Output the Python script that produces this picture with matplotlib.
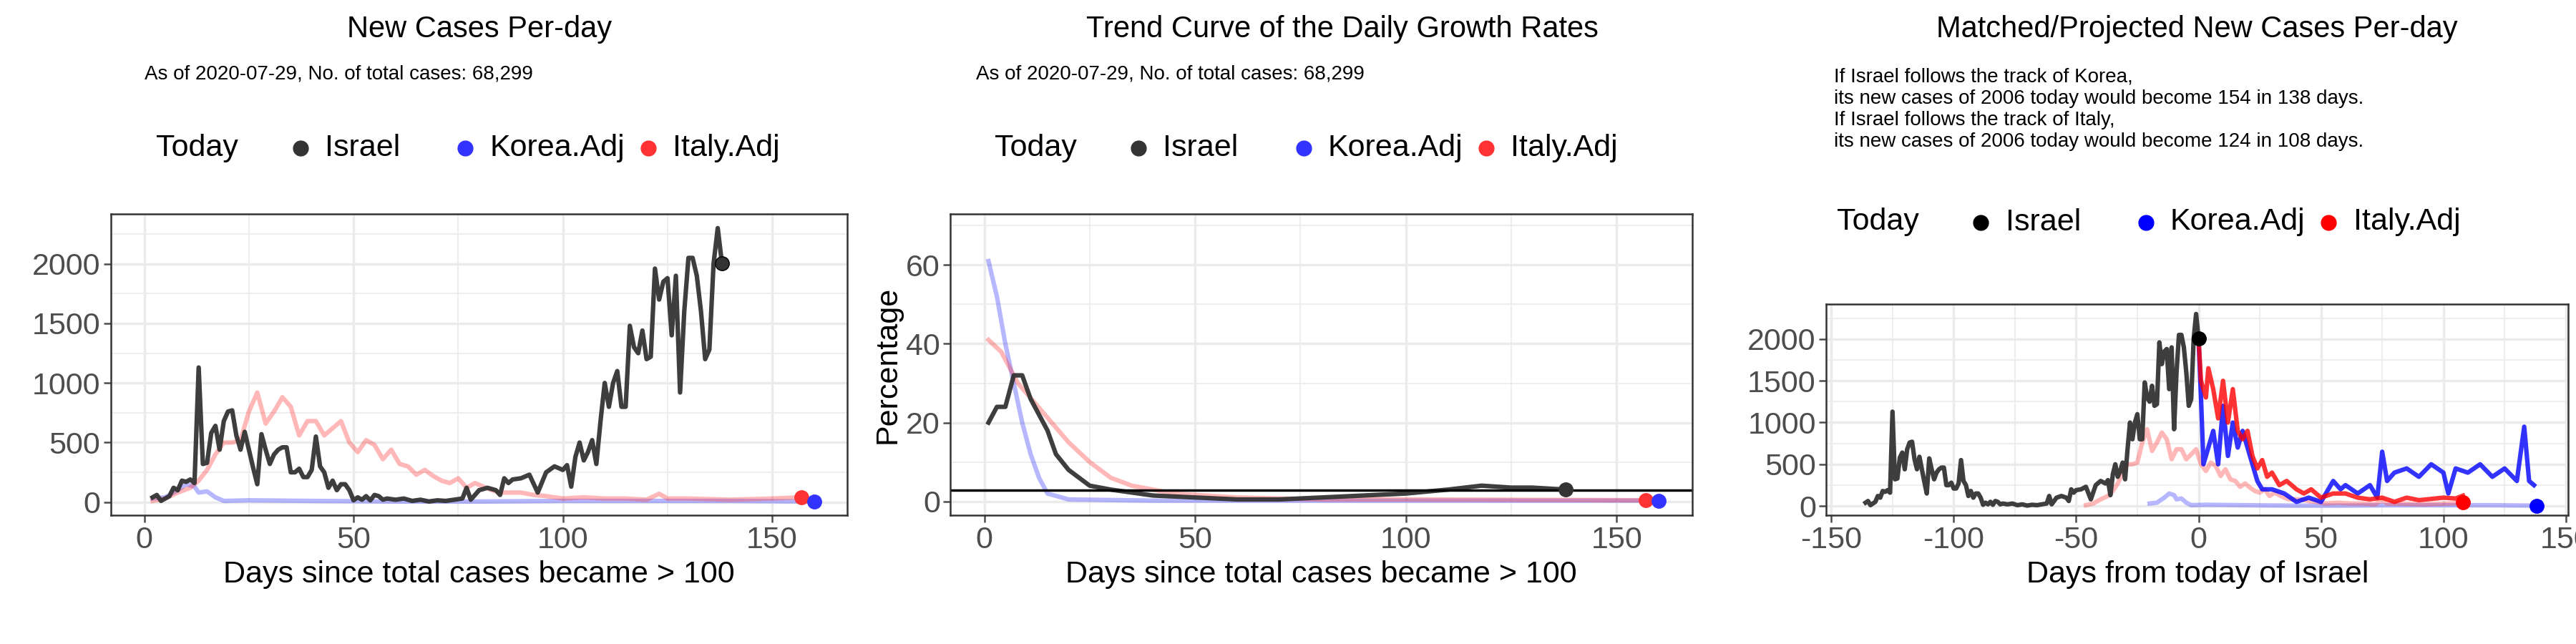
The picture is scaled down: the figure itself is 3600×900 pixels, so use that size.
import matplotlib
matplotlib.use("Agg")
import matplotlib.pyplot as plt
from matplotlib.lines import Line2D
import numpy as np

plt.rcParams["font.family"] = ["Liberation Sans", "DejaVu Sans"]

# ---- data ----
isr_day = [2, 3, 4, 5, 6, 7, 8, 9, 10, 11, 12, 13, 14, 15, 16, 17, 18, 19, 20, 21, 22, 23, 24, 25,
           26, 27, 28, 29, 30, 31, 32, 33, 34, 35, 36, 37, 38, 39, 40, 41, 42, 43, 44, 45, 46, 47,
           48, 49, 50, 51, 52, 53, 54, 55, 56, 57, 58, 60, 62, 64, 66, 68, 70, 72, 74, 76, 77, 78,
           80, 82, 84, 85, 86, 87, 88, 90, 92, 94, 96, 98, 100, 101, 102, 103, 104, 105, 106, 107,
           108, 109, 110, 111, 112, 113, 114, 115, 116, 117, 118, 119, 120, 121, 122, 123, 124,
           125, 126, 127, 128, 129, 130, 131, 132, 133, 134, 135, 136, 137, 138]
isr_new = [40, 60, 10, 30, 50, 120, 100, 180, 170, 190, 160, 1130, 320, 330, 580, 640, 440, 680,
           760, 770, 560, 440, 590, 440, 290, 150, 570, 440, 320, 400, 440, 460, 460, 250, 250, 280,
           210, 210, 270, 550, 300, 250, 120, 180, 100, 150, 150, 100, 15, 40, 20, 50, 15, 60, 50,
           20, 30, 20, 30, 10, 20, 5, 15, 10, 20, 30, 120, 20, 100, 120, 100, 60, 200, 160, 190,
           200, 230, 80, 250, 300, 270, 310, 130, 380, 500, 350, 420, 520, 320, 680, 1000, 800,
           1000, 1100, 800, 800, 1480, 1300, 1250, 1440, 1200, 1220, 1960, 1700, 1850, 1880, 1400,
           1900, 920, 1600, 2050, 2050, 1900, 1600, 1200, 1280, 2000, 2300, 2006]

kor_day = [2, 5, 8, 10, 12, 13, 15, 17, 19, 25, 40, 60, 80, 100, 120, 140, 160]
kor_new = [30, 40, 100, 150, 130, 80, 90, 40, 10, 15, 10, 5, 5, 10, 10, 10, 5]

ita_day = [2, 5, 8, 11, 13, 15, 17, 19, 21, 23, 25, 27, 29, 31, 33, 35, 37, 39, 41, 43, 45, 47, 49,
           51, 53, 55, 57, 59, 61, 63, 65, 67, 69, 71, 73, 75, 77, 79, 81, 83, 85, 87, 90, 93, 96,
           100, 105, 110, 115, 120, 123, 125, 130, 140, 150, 157]
ita_new = [10, 30, 80, 120, 180, 270, 400, 500, 500, 520, 760, 920, 660, 760, 880, 800, 560, 680,
           680, 560, 620, 680, 500, 420, 520, 480, 360, 440, 320, 300, 230, 270, 220, 180, 160, 200,
           120, 160, 130, 100, 80, 80, 80, 60, 50, 30, 40, 30, 30, 20, 70, 30, 30, 20, 30, 40]

# growth rates (%)
isr_gr_day = [1, 3, 5, 7, 9, 11, 13, 15, 17, 20, 25, 30, 40, 50, 60, 70, 80, 90, 100, 110, 118,
              125, 130, 138]
isr_gr = [20, 24, 24, 32, 32, 26, 22, 18, 12, 8, 4, 3, 1.5, 1, 0.5, 0.5, 1, 1.5, 2, 3, 4, 3.5, 3.5, 3]
kor_gr_day = [1, 3, 5, 7, 9, 11, 13, 15, 20, 40, 160]
kor_gr = [61, 52, 40, 30, 20, 12, 6, 2, 0.5, 0.2, 0.2]
ita_gr_day = [1, 4, 8, 12, 16, 20, 25, 30, 35, 45, 60, 80, 100, 157]
ita_gr = [41, 38, 30, 25, 20, 15, 10, 6, 4, 2, 1, 0.5, 0.5, 0.3]
ref_rate = 2.8

# projections (days from today of Israel)
isr_today = 138
kor_shift = 22
ita_shift = 48
ita_proj_day = [0, 1, 3, 4, 6, 8, 10, 12, 14, 16, 18, 20, 22, 24, 26, 28, 30, 33, 36, 40, 43, 46,
                50, 55, 60, 65, 70, 75, 80, 85, 90, 100, 105, 108]
ita_proj = [2000, 1500, 1300, 1650, 1400, 1050, 1500, 1000, 1400, 900, 800, 900, 600, 450, 550,
            350, 400, 250, 300, 200, 150, 200, 100, 150, 150, 100, 80, 100, 50, 100, 70, 100, 90, 124]
kor_proj_day = [0, 1, 2, 4, 6, 8, 10, 12, 14, 16, 18, 20, 22, 24, 26, 30, 35, 40, 45, 50, 55, 58,
                60, 65, 70, 73, 75, 77, 80, 85, 90, 95, 100, 102, 105, 110, 115, 120, 125, 130, 133,
                135, 137]
kor_proj = [2000, 1300, 500, 700, 900, 500, 1200, 600, 1000, 700, 900, 700, 500, 300, 200, 200,
            150, 50, 100, 50, 300, 200, 250, 150, 250, 100, 650, 300, 400, 450, 350, 500, 400, 150,
            450, 400, 500, 350, 450, 300, 950, 300, 250]

DARK = "#333333"
BLUE = "#3333ff"
RED = "#ff3333"
LW = 4.5
FS = 31


def style(ax):
    ax.set_facecolor("white")
    ax.grid(True, which="major", color="#ebebeb", lw=2.5)
    ax.grid(True, which="minor", color="#ebebeb", lw=1.2)
    for s in ax.spines.values():
        s.set_color("#333333")
        s.set_linewidth(1.8)
    ax.tick_params(labelsize=FS, colors="#4d4d4d", length=7, width=1.8)
    ax.tick_params(which="minor", length=0)
    ax.set_axisbelow(True)


def legend(fig, x, y, dark="#333333", blue=BLUE, red=RED):
    fig.text(x, y, "Today", fontsize=FS, va="center")
    items = [(dark, "Israel", 0.056), (blue, "Korea.Adj", 0.120), (red, "Italy.Adj", 0.191)]
    for c, lab, dx in items:
        fig.add_artist(Line2D([x + dx], [y], marker="o", ms=15, color=c, ls="",
                              transform=fig.transFigure))
        fig.text(x + dx + 0.0095, y, lab, fontsize=FS, va="center")


fig = plt.figure(figsize=(36, 9), dpi=100)

# ---- panel 1 ----
ax1 = fig.add_axes([0.043, 0.20, 0.286, 0.468])
style(ax1)
ax1.plot(kor_day, kor_new, color=BLUE, alpha=0.35, lw=LW)
ax1.plot(ita_day, ita_new, color=RED, alpha=0.35, lw=LW)
ax1.plot(isr_day, isr_new, color=DARK, alpha=0.95, lw=LW)
ax1.plot([isr_day[-1]], [isr_new[-1]], "o", color=DARK, ms=14, mec="black")
ax1.plot([ita_day[-1]], [ita_new[-1]], "o", color=RED, ms=14)
ax1.plot([kor_day[-1]], [kor_new[-1]], "o", color=BLUE, ms=14)
ax1.set_xlim(-8, 168)
ax1.set_ylim(-110, 2420)
ax1.set_xticks([0, 50, 100, 150])
ax1.set_xticks([25, 75, 125], minor=True)
ax1.set_yticks([0, 500, 1000, 1500, 2000])
ax1.set_yticks([250, 750, 1250, 1750, 2250], minor=True)
ax1.set_xlabel("Days since total cases became > 100", fontsize=FS, labelpad=6)
fig.text(0.186, 0.954, "New Cases Per-day", fontsize=30, ha="center", va="center")
fig.text(0.056, 0.885, "As of 2020-07-29, No. of total cases: 68,299", fontsize=20, va="center")
legend(fig, 0.0606, 0.77)

# ---- panel 2 ----
ax2 = fig.add_axes([0.369, 0.20, 0.288, 0.468])
style(ax2)
ax2.plot(kor_gr_day, kor_gr, color=BLUE, alpha=0.35, lw=LW)
ax2.plot(ita_gr_day, ita_gr, color=RED, alpha=0.35, lw=LW)
ax2.plot(isr_gr_day, isr_gr, color=DARK, alpha=0.95, lw=LW)
ax2.axhline(ref_rate, color="black", lw=2.5)
ax2.plot([isr_gr_day[-1]], [isr_gr[-1]], "o", color=DARK, ms=14)
ax2.plot([ita_gr_day[-1]], [ita_gr[-1]], "o", color=RED, ms=14)
ax2.plot([kor_gr_day[-1]], [kor_gr[-1]], "o", color=BLUE, ms=14)
ax2.set_xlim(-8, 168)
ax2.set_ylim(-3.5, 73)
ax2.set_xticks([0, 50, 100, 150])
ax2.set_xticks([25, 75, 125], minor=True)
ax2.set_yticks([0, 20, 40, 60])
ax2.set_yticks([10, 30, 50, 70], minor=True)
ax2.set_xlabel("Days since total cases became > 100", fontsize=FS, labelpad=6)
ax2.set_ylabel("Percentage", fontsize=FS)
fig.text(0.521, 0.954, "Trend Curve of the Daily Growth Rates", fontsize=30, ha="center", va="center")
fig.text(0.379, 0.885, "As of 2020-07-29, No. of total cases: 68,299", fontsize=20, va="center")
legend(fig, 0.386, 0.77)

# ---- panel 3 ----
ax3 = fig.add_axes([0.709, 0.20, 0.288, 0.328])
style(ax3)
ax3.plot(np.array(kor_day) - kor_shift, kor_new, color=BLUE, alpha=0.35, lw=LW)
ax3.plot(np.array(ita_day) - ita_shift, ita_new, color=RED, alpha=0.35, lw=LW)
ax3.plot(np.array(isr_day) - isr_today, isr_new, color=DARK, alpha=0.95, lw=LW)
ax3.plot(kor_proj_day, kor_proj, color="#0000ff", alpha=0.8, lw=LW)
ax3.plot(ita_proj_day, ita_proj, color="#ff0000", alpha=0.8, lw=LW)
ax3.plot([0], [isr_new[-1]], "o", color="black", ms=14)
ax3.plot([ita_proj_day[-1]], [ita_new[-1]], "o", color="#ff0000", ms=14)
ax3.plot([kor_day[-1] - kor_shift], [kor_new[-1]], "o", color="#0000ff", ms=14)
ax3.set_xlim(-152, 151)
ax3.set_ylim(-110, 2420)
ax3.set_xticks([-150, -100, -50, 0, 50, 100, 150])
ax3.set_xticks([-125, -75, -25, 25, 75, 125], minor=True)
ax3.set_xticklabels(["-150", "-100", "-50", "0", "50", "100", "150"])
ax3.set_yticks([0, 500, 1000, 1500, 2000])
ax3.set_yticks([250, 750, 1250, 1750, 2250], minor=True)
ax3.set_xlabel("Days from today of Israel", fontsize=FS, labelpad=6)
fig.text(0.853, 0.954, "Matched/Projected New Cases Per-day", fontsize=30, ha="center", va="center")
fig.text(0.712, 0.83,
         "If Israel follows the track of Korea,\n"
         "its new cases of 2006 today would become 154 in 138 days.\n"
         "If Israel follows the track of Italy,\n"
         "its new cases of 2006 today would become 124 in 108 days.",
         fontsize=20, va="center", linespacing=1.2)
legend(fig, 0.713, 0.655, dark="black", blue="#0000ff", red="#ff0000")

fig.savefig("out.png", facecolor="white")
